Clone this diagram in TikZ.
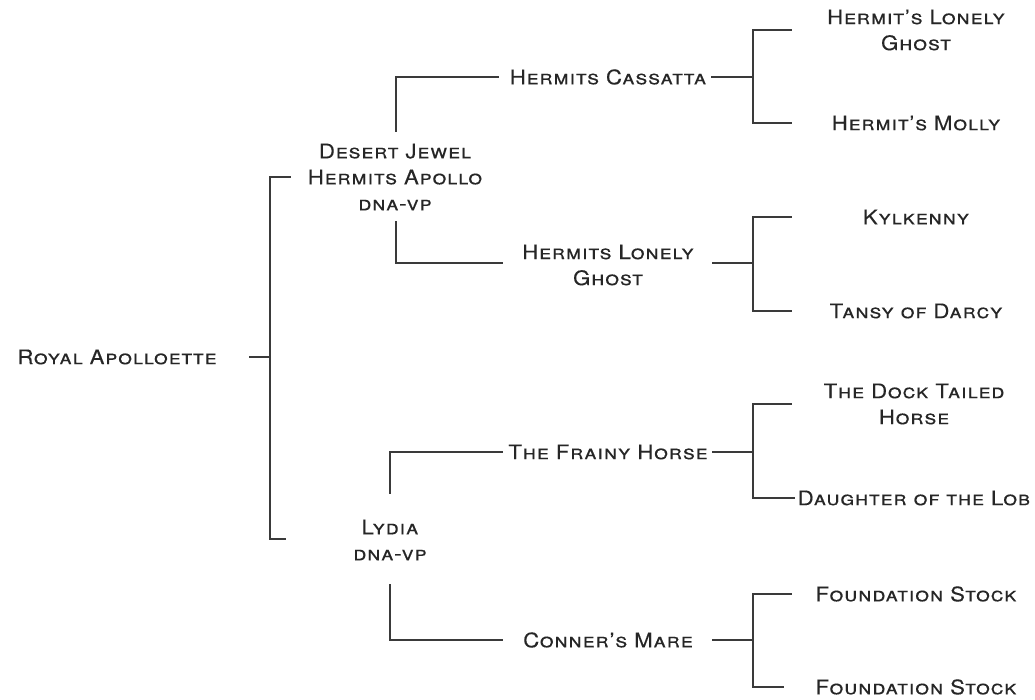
\documentclass[tikz,border=0pt]{standalone}
\usepackage{fontspec}
\setmainfont{TeX Gyre Heros}[FakeStretch=1.11,LetterSpace=4,FakeBold=0.2]
\definecolor{ink}{HTML}{262626}
\definecolor{rule}{HTML}{3A3A3A}
\begin{document}
\begin{tikzpicture}[x=1pt,y=-1pt,
  person/.style={text=ink,font=\fontsize{20}{26}\selectfont\scshape,align=center,inner sep=0pt},
  link/.style={draw=rule,line width=1.4pt,line cap=rect}]
\useasboundingbox (0,0) rectangle (1035,700);
% people
\node[person] (royal) at (117,357) {Royal Apolloette};
\node[person] (dj) at (395,177) {Desert Jewel\\Hermits Apollo\\dna-vp};
\node[person] (ly) at (390,540) {Lydia\\dna-vp};
\node[person] (hc) at (608,77) {Hermits Cassatta};
\node[person] (hlg) at (608,265) {Hermits Lonely\\Ghost};
\node[person] (fh) at (608,452) {The Frainy Horse};
\node[person] (cm) at (608,640) {Conner's Mare};
\node[person] (l1) at (916,30) {Hermit's Lonely\\Ghost};
\node[person] (l2) at (916,123) {Hermit's Molly};
\node[person] (l3) at (916,217) {Kylkenny};
\node[person] (l4) at (916,311) {Tansy of Darcy};
\node[person] (l5) at (914,404) {The Dock Tailed\\Horse};
\node[person] (l6) at (914,498) {Daughter of the Lob};
\node[person] (l7) at (916,594) {Foundation Stock};
\node[person] (l8) at (916,687) {Foundation Stock};
% junction coordinates
\coordinate (royalout) at (250,357);
\coordinate (jR) at (270,357);
\coordinate (jRt) at (270,177);
\coordinate (jRb) at (270,539);
\coordinate (djin) at (290,177);
\coordinate (lyin) at (285,539);
\coordinate (djup) at (396,131);
\coordinate (djupc) at (396,77);
\coordinate (djdn) at (396,222);
\coordinate (djdnc) at (396,263);
\coordinate (hcin) at (498,77);
\coordinate (hlgin) at (502,263);
\coordinate (lyup) at (390,493);
\coordinate (lyupc) at (390,452);
\coordinate (lydn) at (390,585);
\coordinate (lydnc) at (390,640);
\coordinate (fhin) at (502,452);
\coordinate (cmin) at (502,640);
\coordinate (hcout) at (712,77);
\coordinate (hlgout) at (713,263);
\coordinate (fhout) at (713,452);
\coordinate (cmout) at (713,640);
\coordinate (jA) at (753,77);
\coordinate (jAt) at (753,30);
\coordinate (jAb) at (753,123);
\coordinate (jB) at (753,263);
\coordinate (jBt) at (753,217);
\coordinate (jBb) at (753,311);
\coordinate (jC) at (753,452);
\coordinate (jCt) at (753,404);
\coordinate (jCb) at (753,498);
\coordinate (jD) at (753,640);
\coordinate (jDt) at (753,594);
\coordinate (jDb) at (753,687);
\coordinate (l1in) at (791,30);
\coordinate (l2in) at (791,123);
\coordinate (l3in) at (791,217);
\coordinate (l4in) at (791,311);
\coordinate (l5in) at (791,404);
\coordinate (l6in) at (794,498);
\coordinate (l7in) at (791,594);
\coordinate (l8in) at (783,687);
% connectors
\draw[link] (royalout) -- (jR);
\draw[link] (djin) -- (jRt) -- (jRb) -- (lyin);
\draw[link] (djup) -- (djupc) -- (hcin);
\draw[link] (djdn) -- (djdnc) -- (hlgin);
\draw[link] (lyup) -- (lyupc) -- (fhin);
\draw[link] (lydn) -- (lydnc) -- (cmin);
\draw[link] (hcout) -- (jA);
\draw[link] (hlgout) -- (jB);
\draw[link] (fhout) -- (jC);
\draw[link] (cmout) -- (jD);
\draw[link] (l1in) -- (jAt) -- (jAb) -- (l2in);
\draw[link] (l3in) -- (jBt) -- (jBb) -- (l4in);
\draw[link] (l5in) -- (jCt) -- (jCb) -- (l6in);
\draw[link] (l7in) -- (jDt) -- (jDb) -- (l8in);
\end{tikzpicture}
\end{document}
